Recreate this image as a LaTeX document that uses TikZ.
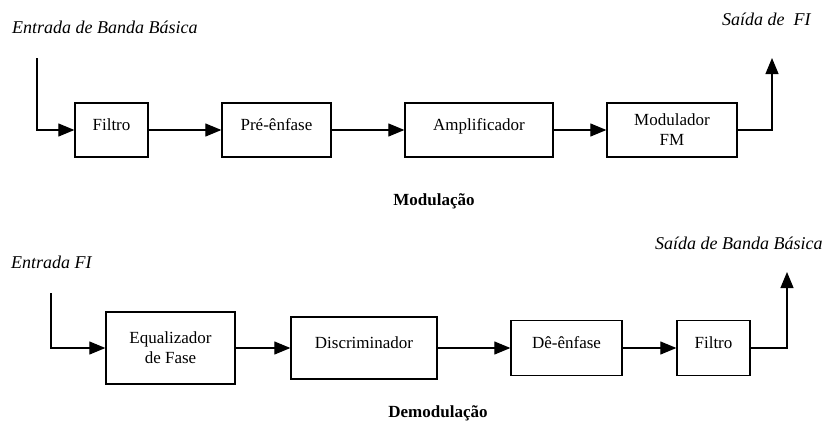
\documentclass[tikz,border=0pt]{standalone}
\usepackage{fontspec}
\setmainfont{Liberation Serif}
\usepackage{tikz}
\usetikzlibrary{positioning,arrows.meta}

\begin{document}
\begin{tikzpicture}[x=1pt,y=-1pt,
    blk/.style={rectangle, draw=black, line width=1.3pt, align=center,
        font=\fontsize{17}{20}\selectfont, inner sep=0pt},
    one/.style={blk, text height=12pt, text depth=12pt},
    lbl/.style={font=\fontsize{18}{20}\selectfont\itshape, inner sep=0pt, anchor=base west},
    ttl/.style={font=\fontsize{17}{20}\selectfont\bfseries, inner sep=0pt, anchor=base},
    wire/.style={line width=1.1pt, -{Triangle[length=16pt,width=13pt]}}
]
\useasboundingbox (0,0) rectangle (832,421);

\node (entA) [lbl] at (12,33) {Entrada de Banda Básica};
\node (saiA) [lbl] at (722,25) {Saída de\ \ FI};
\coordinate (inA) at (37,58);
\coordinate (outA) at (772,58);
\node (filtroA) [one, minimum width=73pt, minimum height=54pt] at (111.5,130) {Filtro};
\node (preA) [one, minimum width=109pt, minimum height=54pt] at (276.5,130) {Pré-ênfase};
\node (ampA) [one, minimum width=148pt, minimum height=54pt] at (479,130) {Amplificador};
\node (modA) [blk, minimum width=130pt, minimum height=54pt] at (672,130) {Modulador\\FM};
\node (titA) [ttl] at (434,205) {Modulação};

\draw[wire] (inA) |- (filtroA.west);
\draw[wire] (filtroA) -- (preA);
\draw[wire] (preA) -- (ampA);
\draw[wire] (ampA) -- (modA);
\draw[wire] (modA.east) -| (outA);

\node (entB) [lbl] at (11,268) {Entrada FI};
\node (saiB) [lbl] at (655,249) {Saída de Banda Básica};
\coordinate (inB) at (51,293);
\coordinate (outB) at (787,272);
\node (eqB) [blk, minimum width=129pt, minimum height=72pt] at (170.5,348) {Equalizador\\de Fase};
\node (discB) [one, minimum width=146pt, minimum height=62pt] at (364,348) {Discriminador};
\node (deB) [one, minimum width=111pt, minimum height=55pt] at (566.5,348) {Dê-ênfase};
\node (filtroB) [one, minimum width=73pt, minimum height=55pt] at (713.5,348) {Filtro};
\node (titB) [ttl] at (438,417) {Demodulação};

\draw[wire] (inB) |- (eqB.west);
\draw[wire] (eqB) -- (discB);
\draw[wire] (discB) -- (deB);
\draw[wire] (deB) -- (filtroB);
\draw[wire] (filtroB.east) -| (outB);
\end{tikzpicture}
\end{document}
